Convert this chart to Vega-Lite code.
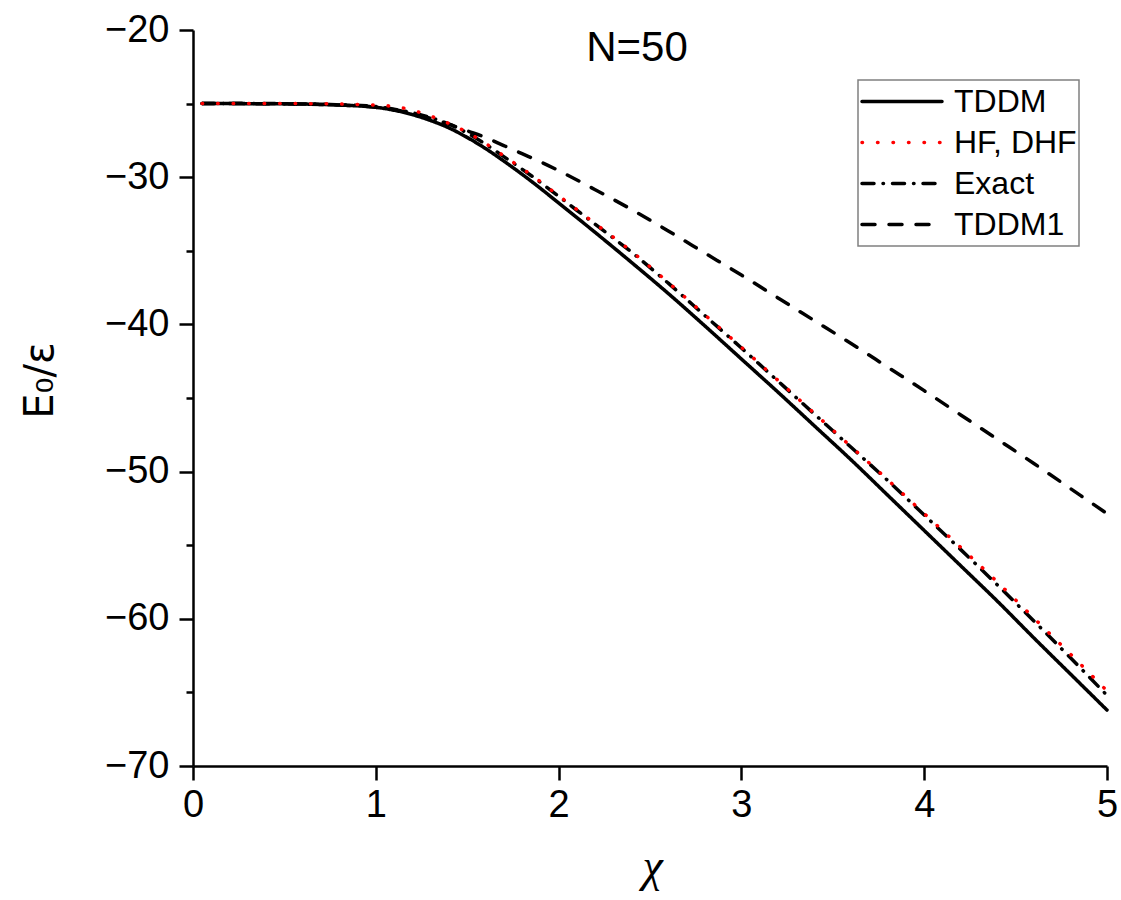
{
  "$schema": "https://vega.github.io/schema/vega-lite/v6.json",
  "autosize": "none",
  "width": 914,
  "height": 736,
  "padding": {"left": 193, "top": 30, "right": 14, "bottom": 134},
  "background": "white",
  "title": {
    "text": "N=50",
    "orient": "top",
    "anchor": "middle",
    "frame": "group",
    "offset": 0,
    "dx": -13,
    "dy": 92,
    "baseline": "alphabetic",
    "font": "Liberation Sans",
    "fontSize": 42,
    "fontWeight": "normal",
    "color": "black"
  },
  "config": {
    "view": {"stroke": null},
    "axis": {"grid": false, "domainColor": "black", "domainWidth": 2.5, "tickColor": "black", "tickWidth": 2.5, "labelColor": "black", "titleColor": "black", "labelFlush": false},
    "legend": {"strokeColor": "#808080", "strokeWidth": 1.5}
  },
  "data": {"values": [
    {"x": 0.05, "y": -25.0, "s": "TDDM1"}, {"x": 0.2, "y": -25.0, "s": "TDDM1"}, {"x": 0.4, "y": -25.01, "s": "TDDM1"}, {"x": 0.6, "y": -25.03, "s": "TDDM1"}, {"x": 0.8, "y": -25.1, "s": "TDDM1"}, {"x": 1.0, "y": -25.25, "s": "TDDM1"}, {"x": 1.1, "y": -25.42, "s": "TDDM1"}, {"x": 1.2, "y": -25.67, "s": "TDDM1"}, {"x": 1.3, "y": -26.0, "s": "TDDM1"}, {"x": 1.4, "y": -26.4, "s": "TDDM1"}, {"x": 1.5, "y": -26.85, "s": "TDDM1"}, {"x": 1.6, "y": -27.3, "s": "TDDM1"}, {"x": 1.7, "y": -27.85, "s": "TDDM1"}, {"x": 1.8, "y": -28.4, "s": "TDDM1"}, {"x": 1.9, "y": -28.95, "s": "TDDM1"}, {"x": 2.0, "y": -29.55, "s": "TDDM1"}, {"x": 2.2, "y": -30.85, "s": "TDDM1"}, {"x": 2.4, "y": -32.2, "s": "TDDM1"}, {"x": 2.6, "y": -33.65, "s": "TDDM1"}, {"x": 2.8, "y": -35.15, "s": "TDDM1"}, {"x": 3.0, "y": -36.65, "s": "TDDM1"}, {"x": 3.2, "y": -38.2, "s": "TDDM1"}, {"x": 3.4, "y": -39.75, "s": "TDDM1"}, {"x": 3.6, "y": -41.3, "s": "TDDM1"}, {"x": 3.8, "y": -42.9, "s": "TDDM1"}, {"x": 4.0, "y": -44.5, "s": "TDDM1"}, {"x": 4.2, "y": -46.15, "s": "TDDM1"}, {"x": 4.4, "y": -47.8, "s": "TDDM1"}, {"x": 4.6, "y": -49.45, "s": "TDDM1"}, {"x": 4.8, "y": -51.15, "s": "TDDM1"}, {"x": 5.0, "y": -52.85, "s": "TDDM1"},
    {"x": 0.05, "y": -25.0, "s": "TDDM"}, {"x": 0.2, "y": -25.0, "s": "TDDM"}, {"x": 0.4, "y": -25.01, "s": "TDDM"}, {"x": 0.6, "y": -25.03, "s": "TDDM"}, {"x": 0.8, "y": -25.1, "s": "TDDM"}, {"x": 1.0, "y": -25.25, "s": "TDDM"}, {"x": 1.1, "y": -25.45, "s": "TDDM"}, {"x": 1.2, "y": -25.75, "s": "TDDM"}, {"x": 1.3, "y": -26.15, "s": "TDDM"}, {"x": 1.4, "y": -26.65, "s": "TDDM"}, {"x": 1.5, "y": -27.3, "s": "TDDM"}, {"x": 1.6, "y": -28.05, "s": "TDDM"}, {"x": 1.7, "y": -28.9, "s": "TDDM"}, {"x": 1.8, "y": -29.8, "s": "TDDM"}, {"x": 1.9, "y": -30.75, "s": "TDDM"}, {"x": 2.0, "y": -31.75, "s": "TDDM"}, {"x": 2.2, "y": -33.75, "s": "TDDM"}, {"x": 2.4, "y": -35.8, "s": "TDDM"}, {"x": 2.6, "y": -37.9, "s": "TDDM"}, {"x": 2.8, "y": -40.1, "s": "TDDM"}, {"x": 3.0, "y": -42.35, "s": "TDDM"}, {"x": 3.2, "y": -44.6, "s": "TDDM"}, {"x": 3.4, "y": -46.9, "s": "TDDM"}, {"x": 3.6, "y": -49.2, "s": "TDDM"}, {"x": 3.8, "y": -51.6, "s": "TDDM"}, {"x": 4.0, "y": -54.0, "s": "TDDM"}, {"x": 4.2, "y": -56.4, "s": "TDDM"}, {"x": 4.4, "y": -58.8, "s": "TDDM"}, {"x": 4.6, "y": -61.3, "s": "TDDM"}, {"x": 4.8, "y": -63.75, "s": "TDDM"}, {"x": 5.0, "y": -66.2, "s": "TDDM"},
    {"x": 0.05, "y": -25.0, "s": "Exact"}, {"x": 0.2, "y": -25.0, "s": "Exact"}, {"x": 0.4, "y": -25.0, "s": "Exact"}, {"x": 0.6, "y": -25.02, "s": "Exact"}, {"x": 0.8, "y": -25.08, "s": "Exact"}, {"x": 1.0, "y": -25.2, "s": "Exact"}, {"x": 1.1, "y": -25.38, "s": "Exact"}, {"x": 1.2, "y": -25.62, "s": "Exact"}, {"x": 1.3, "y": -25.95, "s": "Exact"}, {"x": 1.4, "y": -26.4, "s": "Exact"}, {"x": 1.5, "y": -27.0, "s": "Exact"}, {"x": 1.6, "y": -27.75, "s": "Exact"}, {"x": 1.7, "y": -28.6, "s": "Exact"}, {"x": 1.8, "y": -29.45, "s": "Exact"}, {"x": 1.9, "y": -30.35, "s": "Exact"}, {"x": 2.0, "y": -31.3, "s": "Exact"}, {"x": 2.2, "y": -33.2, "s": "Exact"}, {"x": 2.4, "y": -35.1, "s": "Exact"}, {"x": 2.6, "y": -37.2, "s": "Exact"}, {"x": 2.8, "y": -39.4, "s": "Exact"}, {"x": 3.0, "y": -41.6, "s": "Exact"}, {"x": 3.2, "y": -43.85, "s": "Exact"}, {"x": 3.4, "y": -46.1, "s": "Exact"}, {"x": 3.6, "y": -48.35, "s": "Exact"}, {"x": 3.8, "y": -50.6, "s": "Exact"}, {"x": 4.0, "y": -52.95, "s": "Exact"}, {"x": 4.2, "y": -55.3, "s": "Exact"}, {"x": 4.4, "y": -57.7, "s": "Exact"}, {"x": 4.6, "y": -60.15, "s": "Exact"}, {"x": 4.8, "y": -62.65, "s": "Exact"}, {"x": 5.0, "y": -65.2, "s": "Exact"},
    {"x": 0.05, "y": -25.0, "s": "HF, DHF"}, {"x": 0.2, "y": -25.0, "s": "HF, DHF"}, {"x": 0.4, "y": -25.0, "s": "HF, DHF"}, {"x": 0.6, "y": -25.0, "s": "HF, DHF"}, {"x": 0.8, "y": -25.03, "s": "HF, DHF"}, {"x": 1.0, "y": -25.1, "s": "HF, DHF"}, {"x": 1.1, "y": -25.2, "s": "HF, DHF"}, {"x": 1.2, "y": -25.45, "s": "HF, DHF"}, {"x": 1.3, "y": -25.85, "s": "HF, DHF"}, {"x": 1.4, "y": -26.35, "s": "HF, DHF"}, {"x": 1.5, "y": -26.95, "s": "HF, DHF"}, {"x": 1.6, "y": -27.7, "s": "HF, DHF"}, {"x": 1.7, "y": -28.55, "s": "HF, DHF"}, {"x": 1.8, "y": -29.4, "s": "HF, DHF"}, {"x": 1.9, "y": -30.3, "s": "HF, DHF"}, {"x": 2.0, "y": -31.25, "s": "HF, DHF"}, {"x": 2.2, "y": -33.15, "s": "HF, DHF"}, {"x": 2.4, "y": -35.05, "s": "HF, DHF"}, {"x": 2.6, "y": -37.15, "s": "HF, DHF"}, {"x": 2.8, "y": -39.35, "s": "HF, DHF"}, {"x": 3.0, "y": -41.55, "s": "HF, DHF"}, {"x": 3.2, "y": -43.8, "s": "HF, DHF"}, {"x": 3.4, "y": -46.05, "s": "HF, DHF"}, {"x": 3.6, "y": -48.3, "s": "HF, DHF"}, {"x": 3.8, "y": -50.55, "s": "HF, DHF"}, {"x": 4.0, "y": -52.85, "s": "HF, DHF"}, {"x": 4.2, "y": -55.15, "s": "HF, DHF"}, {"x": 4.4, "y": -57.5, "s": "HF, DHF"}, {"x": 4.6, "y": -59.95, "s": "HF, DHF"}, {"x": 4.8, "y": -62.4, "s": "HF, DHF"}, {"x": 5.0, "y": -64.9, "s": "HF, DHF"}
  ]},
  "mark": {"type": "line", "strokeWidth": 3.5, "strokeCap": "round", "interpolate": "monotone"},
  "encoding": {
    "x": {
      "field": "x", "type": "quantitative",
      "scale": {"domain": [0, 5], "nice": false, "zero": false},
      "axis": {
        "values": [0, 0.5, 1, 1.5, 2, 2.5, 3, 3.5, 4, 4.5, 5],
        "format": "d",
        "labelExpr": "datum.value % 1 === 0 ? datum.label : ''",
        "tickSize": {"condition": {"test": "datum.value % 1 === 0", "value": 14}, "value": 7},
        "labelFont": "Liberation Sans", "labelFontSize": 38, "labelPadding": 6,
        "title": "χ", "titleFont": "Liberation Serif", "titleFontStyle": "italic", "titleFontWeight": "normal", "titleFontSize": 46,
        "titleX": 459, "titleY": 114, "titleBaseline": "alphabetic", "titleAlign": "center"
      }
    },
    "y": {
      "field": "y", "type": "quantitative",
      "scale": {"domain": [-70, -20], "nice": false, "zero": false},
      "axis": {
        "values": [-70, -65, -60, -55, -50, -45, -40, -35, -30, -25, -20],
        "labelExpr": "datum.value % 10 === 0 ? datum.label : ''",
        "tickSize": {"condition": {"test": "datum.value % 10 === 0", "value": 14}, "value": 7},
        "labelFont": "Liberation Sans", "labelFontSize": 38, "labelPadding": 10,
        "title": "E₀/ε", "titleFont": "DejaVu Sans", "titleFontWeight": "normal", "titleFontSize": 40,
        "titleX": -141, "titleY": 350, "titleAngle": -90, "titleBaseline": "alphabetic", "titleAlign": "center"
      }
    },
    "color": {
      "field": "s", "type": "nominal",
      "scale": {"domain": ["TDDM", "HF, DHF", "Exact", "TDDM1"], "range": ["#000000", "#ff0000", "#000000", "#000000"]},
      "legend": {
        "title": null, "orient": "none", "legendX": 665, "legendY": 50,
        "symbolType": "stroke", "symbolSize": 6400, "symbolStrokeWidth": 3.5,
        "clipHeight": 39, "padding": 2, "labelOffset": 10,
        "labelFont": "Liberation Sans", "labelFontSize": 32, "labelColor": "black",
        "encode": {"symbols": {"update": {"strokeCap": {"value": "round"}}}}
      }
    },
    "strokeDash": {
      "field": "s", "type": "nominal",
      "scale": {"domain": ["TDDM", "HF, DHF", "Exact", "TDDM1"], "range": [[1, 0], [0.5, 15], [12, 9, 0.5, 9], [13, 14]]},
      "legend": null
    }
  }
}
